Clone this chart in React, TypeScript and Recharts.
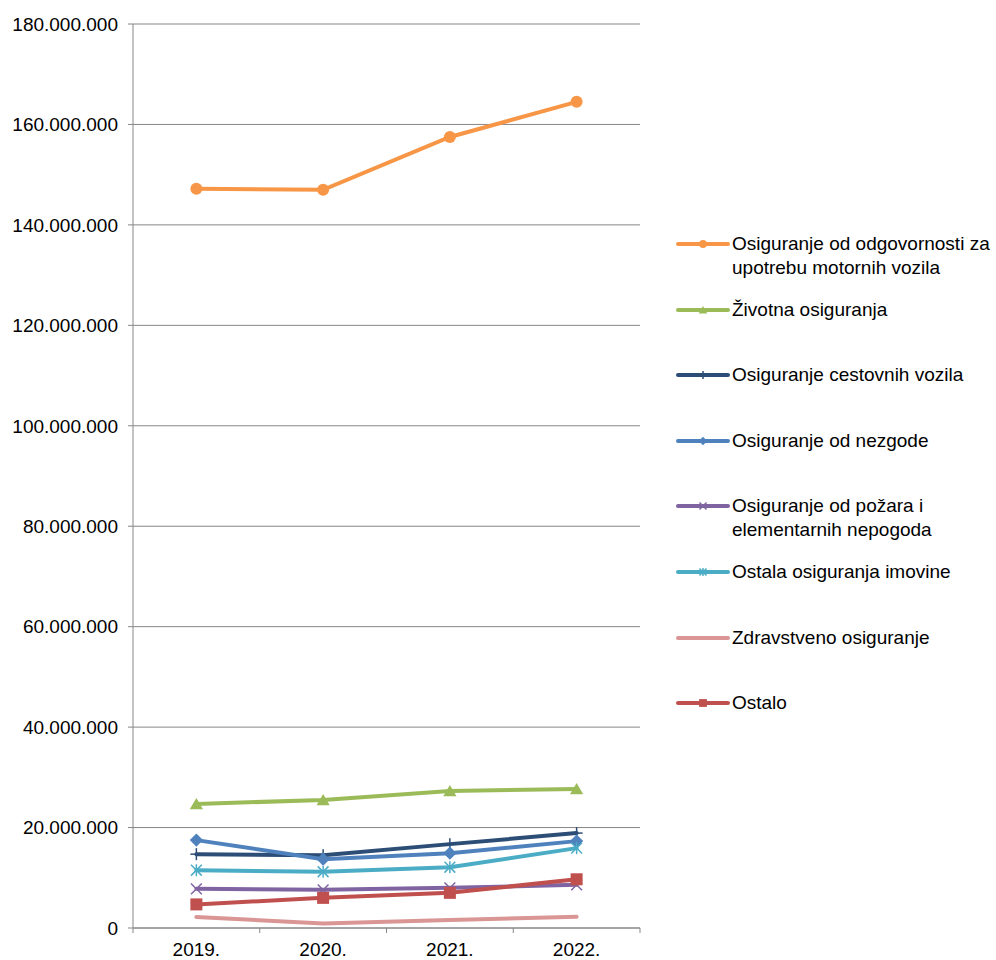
import React from 'react';
import { LineChart, Line, XAxis, YAxis, CartesianGrid } from 'recharts';

const years = ['2019.', '2020.', '2021.', '2022.'];

const odgovornost = [147200000, 147000000, 157500000, 164500000];
const zivotna = [24700000, 25500000, 27300000, 27700000];
const cestovna = [14700000, 14500000, 16700000, 18900000];
const nezgode = [17500000, 13700000, 14900000, 17300000];
const pozar = [7800000, 7600000, 8000000, 8600000];
const imovina = [11500000, 11200000, 12100000, 15900000];
const zdravstveno = [2200000, 900000, 1600000, 2250000];
const ostalo = [4700000, 6000000, 7000000, 9700000];

const yTicks = [0, 20000000, 40000000, 60000000, 80000000, 100000000, 120000000, 140000000, 160000000, 180000000];

type Shape = 'circle' | 'triangle' | 'plus' | 'diamond' | 'x' | 'star' | 'none' | 'square';

const series: { key: string; name: string; color: string; shape: Shape; values: number[] }[] = [
  { key: 'odgovornost', name: 'Osiguranje od odgovornosti za\nupotrebu motornih vozila', color: '#F79646', shape: 'circle', values: odgovornost },
  { key: 'zivotna', name: 'Životna osiguranja', color: '#9BBB59', shape: 'triangle', values: zivotna },
  { key: 'cestovna', name: 'Osiguranje cestovnih vozila', color: '#2C4D75', shape: 'plus', values: cestovna },
  { key: 'nezgode', name: 'Osiguranje od nezgode', color: '#4F81BD', shape: 'diamond', values: nezgode },
  { key: 'pozar', name: 'Osiguranje od požara i\nelementarnih nepogoda', color: '#8064A2', shape: 'x', values: pozar },
  { key: 'imovina', name: 'Ostala osiguranja imovine', color: '#4BACC6', shape: 'star', values: imovina },
  { key: 'zdravstveno', name: 'Zdravstveno osiguranje', color: '#D99694', shape: 'none', values: zdravstveno },
  { key: 'ostalo', name: 'Ostalo', color: '#C0504D', shape: 'square', values: ostalo },
];

const data = years.map((year, i) => {
  const row: Record<string, string | number> = { year };
  series.forEach((s) => {
    row[s.key] = s.values[i];
  });
  return row;
});

const WIDTH = 996;
const HEIGHT = 960;
const PLOT_LEFT = 133;
const PLOT_RIGHT = 640;
const BAND = (PLOT_RIGHT - PLOT_LEFT) / years.length;
const FONT = '"Liberation Sans", Arial, sans-serif';
const AXIS = '#868686';

const formatNum = (v: number) => String(v).replace(/\B(?=(\d{3})+(?!\d))/g, '.');

const Marker = ({ shape, cx, cy, color, size = 1 }: { shape: Shape; cx: number; cy: number; color: string; size?: number }) => {
  const s = 6 * size;
  switch (shape) {
    case 'circle':
      return <circle cx={cx} cy={cy} r={s} fill={color} />;
    case 'triangle':
      return <polygon points={`${cx},${cy - s} ${cx + s * 1.1},${cy + s * 0.9} ${cx - s * 1.1},${cy + s * 0.9}`} fill={color} />;
    case 'diamond':
      return <polygon points={`${cx},${cy - s * 1.1} ${cx + s * 1.1},${cy} ${cx},${cy + s * 1.1} ${cx - s * 1.1},${cy}`} fill={color} />;
    case 'square':
      return <rect x={cx - s} y={cy - s} width={s * 2} height={s * 2} fill={color} />;
    case 'plus':
      return (
        <g stroke={color} strokeWidth={1.5}>
          <line x1={cx} y1={cy - s} x2={cx} y2={cy + s} />
          <line x1={cx - s} y1={cy} x2={cx + s} y2={cy} />
        </g>
      );
    case 'x':
      return (
        <g stroke={color} strokeWidth={1.5}>
          <line x1={cx - s * 0.9} y1={cy - s * 0.9} x2={cx + s * 0.9} y2={cy + s * 0.9} />
          <line x1={cx - s * 0.9} y1={cy + s * 0.9} x2={cx + s * 0.9} y2={cy - s * 0.9} />
        </g>
      );
    case 'star':
      return (
        <g stroke={color} strokeWidth={1.5}>
          <line x1={cx - s * 0.9} y1={cy - s * 0.9} x2={cx + s * 0.9} y2={cy + s * 0.9} />
          <line x1={cx - s * 0.9} y1={cy + s * 0.9} x2={cx + s * 0.9} y2={cy - s * 0.9} />
          <line x1={cx} y1={cy - s} x2={cx} y2={cy + s} />
        </g>
      );
    default:
      return null;
  }
};

const XTick = (props: any) => {
  const { x, y, payload, index } = props;
  const axisY = y - 15;
  return (
    <g>
      <line x1={x - BAND / 2} y1={axisY} x2={x - BAND / 2} y2={axisY + 5} stroke={AXIS} />
      {index === years.length - 1 && (
        <line x1={x + BAND / 2} y1={axisY} x2={x + BAND / 2} y2={axisY + 5} stroke={AXIS} />
      )}
      <text x={x} y={y} dy="0.71em" textAnchor="middle" fill="#000" fontSize={19} fontFamily={FONT}>
        {payload.value}
      </text>
    </g>
  );
};

// legend drawn beside the chart, markers spaced evenly like the original
const ChartLegend = () => (
  <div style={{ position: 'absolute', left: 676, top: 232, width: 330, height: 520, fontFamily: FONT, fontSize: 19, color: '#000' }}>
    {series.map((s, i) => (
      <div key={s.key} style={{ position: 'absolute', top: i * 65.6, left: 0, display: 'flex', alignItems: 'flex-start' }}>
        <svg width={54} height={24} style={{ flex: 'none' }}>
          <line x1={2} y1={12} x2={52} y2={12} stroke={s.color} strokeWidth={4} strokeLinecap="round" />
          <Marker shape={s.shape} cx={27} cy={12} color={s.color} size={0.65} />
        </svg>
        <div style={{ whiteSpace: 'pre-line', lineHeight: '24px', marginLeft: 2 }}>{s.name}</div>
      </div>
    ))}
  </div>
);

const App = () => {
  return (
    <div style={{ position: 'absolute', left: 0, top: 0, width: WIDTH, height: HEIGHT, background: '#fff' }}>
      <LineChart width={WIDTH} height={HEIGHT} data={data} margin={{ top: 24, right: WIDTH - PLOT_RIGHT, bottom: 0, left: 0 }}>
        <CartesianGrid vertical={false} stroke={AXIS} strokeWidth={1} />
        <XAxis
          dataKey="year"
          scale="band"
          height={32}
          stroke={AXIS}
          tickLine={{ stroke: 'none' }}
          tickSize={5}
          tickMargin={10}
          tick={<XTick />}
          interval={0}
        />
        <YAxis
          width={PLOT_LEFT}
          domain={[0, 180000000]}
          ticks={yTicks}
          interval={0}
          stroke={AXIS}
          tickSize={5}
          tickMargin={10}
          tickFormatter={formatNum}
          tick={{ fill: '#000', fontSize: 19, fontFamily: FONT }}
        />
        {series.map((s) => (
          <Line
            key={s.key}
            dataKey={s.key}
            name={s.name}
            type="linear"
            stroke={s.color}
            strokeWidth={4}
            strokeLinecap="round"
            isAnimationActive={false}
            dot={(p: any) => <Marker key={`${s.key}-${p.index}`} shape={s.shape} cx={p.cx} cy={p.cy} color={s.color} />}
            activeDot={false}
          />
        ))}
      </LineChart>
      <ChartLegend />
    </div>
  );
};

export default App;
